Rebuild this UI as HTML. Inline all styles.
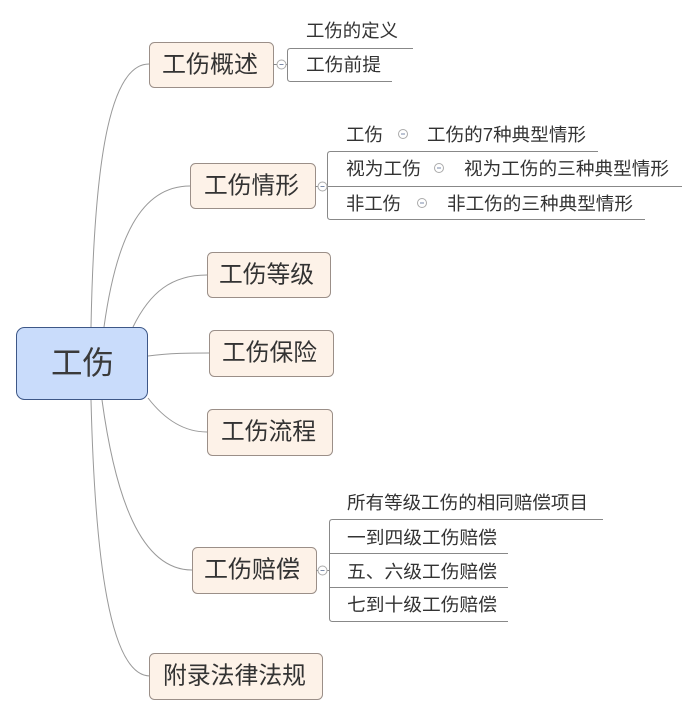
<!DOCTYPE html>
<html><head><meta charset="utf-8"><style>
html,body{margin:0;padding:0;background:#fff;}
svg{display:block;}
text{font-family:"Liberation Sans","Noto Sans CJK SC","WenQuanYi Zen Hei",sans-serif;fill:#333;}
</style></head><body>
<svg width="698" height="716" viewBox="0 0 698 716" xmlns="http://www.w3.org/2000/svg">
<g fill="none" stroke="#999" stroke-width="1">
<path d="M91,327 C94,170 108,64 149,64"/>
<path d="M104,327 C116,240 140,186 190,186"/>
<path d="M133,327 C150,292 172,275 207,275"/>
<path d="M148,356 C170,353 190,353 209,353"/>
<path d="M148,398 C165,420 185,432 207,432"/>
<path d="M102,400 C115,495 140,570 192,570"/>
<path d="M91,400 C95,560 110,676 150,676"/>
</g>
<!-- central -->
<rect x="16.5" y="327.5" width="131" height="72" rx="8" fill="#c9dcfb" stroke="#3d5787" stroke-width="1"/>
<text x="51" y="363" font-size="32" dominant-baseline="central" textLength="63" lengthAdjust="spacingAndGlyphs" style="fill:#3a3a3a">工伤</text>
<!-- main nodes -->
<g fill="#fdf2e8" stroke="#9b8f88" stroke-width="1">
<rect x="149.5" y="42.5" width="124" height="45" rx="5"/>
<rect x="190.5" y="163.5" width="125" height="45" rx="5"/>
<rect x="207.5" y="252.5" width="123" height="45" rx="5"/>
<rect x="209.5" y="330.5" width="124" height="46" rx="5"/>
<rect x="207.5" y="409.5" width="125" height="46" rx="5"/>
<rect x="192.5" y="547.5" width="124" height="46" rx="5"/>
<rect x="149.5" y="653.5" width="173" height="46" rx="5"/>
</g>
<g font-size="24" dominant-baseline="central">
<text x="162" y="65" textLength="96" lengthAdjust="spacingAndGlyphs" dominant-baseline="central">工伤概述</text>
<text x="204" y="186" textLength="95" lengthAdjust="spacingAndGlyphs" dominant-baseline="central">工伤情形</text>
<text x="219" y="275" textLength="95" lengthAdjust="spacingAndGlyphs" dominant-baseline="central">工伤等级</text>
<text x="222" y="353" textLength="95" lengthAdjust="spacingAndGlyphs" dominant-baseline="central">工伤保险</text>
<text x="221" y="432" textLength="95" lengthAdjust="spacingAndGlyphs" dominant-baseline="central">工伤流程</text>
<text x="204" y="570" textLength="96" lengthAdjust="spacingAndGlyphs" dominant-baseline="central">工伤赔偿</text>
<text x="163" y="676" textLength="143" lengthAdjust="spacingAndGlyphs" dominant-baseline="central">附录法律法规</text>
</g>
<!-- branch lines -->
<g fill="none" stroke="#888" stroke-width="1">
<path d="M273,64.5 H277"/>
<path d="M286,64.5 H287.5"/>
<path d="M413,48.5 H290.5 Q287.5,48.5 287.5,51.5 V78.5 Q287.5,81.5 290.5,81.5 H392"/>
<path d="M315,186.5 H318"/>
<path d="M598,151.5 H330.5 Q327.5,151.5 327.5,154.5 V216.5 Q327.5,219.5 330.5,219.5 H645"/>
<path d="M327,186.5 H682"/>
<path d="M316,570.5 H318"/>
<path d="M603,519.5 H332.5 Q329.5,519.5 329.5,522.5 V618.5 Q329.5,621.5 332.5,621.5 H508"/>
<path d="M329.5,553.5 H508"/>
<path d="M329.5,587.5 H508"/>
<path d="M326,570.5 H329.5"/>
</g>
<!-- collapse circles -->
<g fill="#fff" stroke="#aaa" stroke-width="1">
<circle cx="281.5" cy="64.5" r="4.5"/>
<circle cx="322.5" cy="186.5" r="4.5"/>
<circle cx="322.5" cy="570.5" r="4.5"/>
<circle cx="403" cy="134" r="4.5"/>
<circle cx="439" cy="168" r="4.5"/>
<circle cx="422" cy="203" r="4.5"/>
</g>
<g stroke="#7a8aa8" stroke-width="1">
<path d="M279.5,64.5 H283.5"/>
<path d="M320.5,186.5 H324.5"/>
<path d="M320.5,570.5 H324.5"/>
<path d="M401,134 H405"/>
<path d="M437,168 H441"/>
<path d="M420,203 H424"/>
</g>
<!-- child texts -->
<g font-size="18">
<text x="306" y="31" textLength="92" lengthAdjust="spacingAndGlyphs" dominant-baseline="central">工伤的定义</text>
<text x="306" y="65" textLength="75" lengthAdjust="spacingAndGlyphs" dominant-baseline="central">工伤前提</text>
<text x="346" y="135" textLength="37" lengthAdjust="spacingAndGlyphs" dominant-baseline="central">工伤</text>
<text x="427" y="135" textLength="159" lengthAdjust="spacingAndGlyphs" dominant-baseline="central">工伤的7种典型情形</text>
<text x="346" y="169" textLength="75" lengthAdjust="spacingAndGlyphs" dominant-baseline="central">视为工伤</text>
<text x="464" y="169" textLength="205" lengthAdjust="spacingAndGlyphs" dominant-baseline="central">视为工伤的三种典型情形</text>
<text x="346" y="204" textLength="55" lengthAdjust="spacingAndGlyphs" dominant-baseline="central">非工伤</text>
<text x="447" y="204" textLength="186" lengthAdjust="spacingAndGlyphs" dominant-baseline="central">非工伤的三种典型情形</text>
<text x="347" y="503" textLength="241" lengthAdjust="spacingAndGlyphs" dominant-baseline="central">所有等级工伤的相同赔偿项目</text>
<text x="347" y="538" textLength="150" lengthAdjust="spacingAndGlyphs" dominant-baseline="central">一到四级工伤赔偿</text>
<text x="347" y="572" textLength="150" lengthAdjust="spacingAndGlyphs" dominant-baseline="central">五、六级工伤赔偿</text>
<text x="347" y="605" textLength="150" lengthAdjust="spacingAndGlyphs" dominant-baseline="central">七到十级工伤赔偿</text>
</g>
</svg>
</body></html>
